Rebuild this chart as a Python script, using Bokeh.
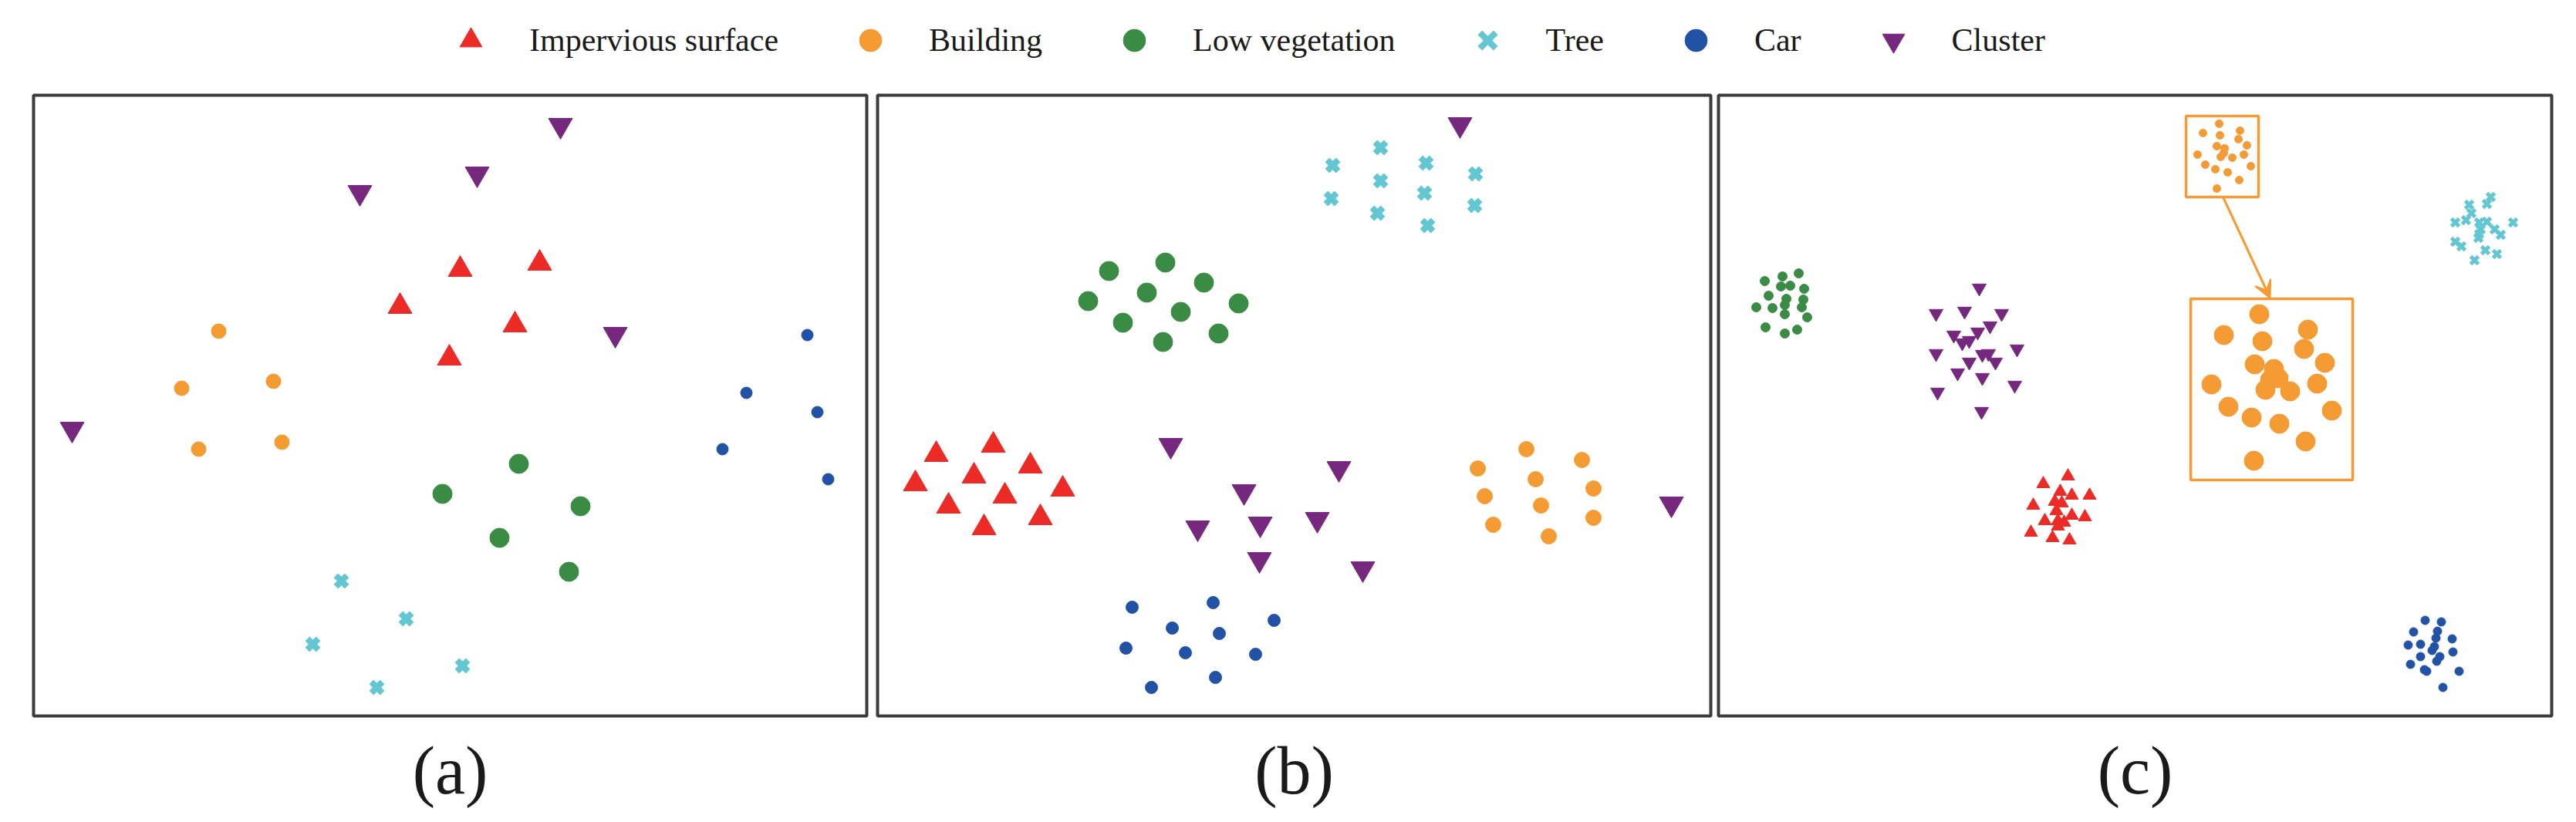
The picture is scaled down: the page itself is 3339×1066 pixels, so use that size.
from bokeh.plotting import figure
from bokeh.layouts import column, row
from bokeh.models import Legend, LegendItem, Range1d, Arrow, VeeHead
from bokeh.embed import file_html
from bokeh.resources import INLINE

# ---------------- data (embedding coordinates, panel units; y grows downward) ----------------
CLASS_NAMES = ["Impervious surface", "Building", "Low vegetation", "Tree", "Car", "Cluster"]
PANEL_LABELS = ["(a)", "(b)", "(c)"]

# panel (a)
A_IMP_X = [553, 656, 475, 624, 539]
A_IMP_Y = [226, 218, 274, 298, 341]
A_BLD_X = [240, 192, 311, 214, 322]
A_BLD_Y = [306, 380, 371, 459, 450]
A_VEG_X = [629, 530, 709, 604, 694]
A_VEG_Y = [478, 517, 533, 574, 618]
A_TREE_X = [399, 483, 362, 556, 445]
A_TREE_Y = [630, 679, 712, 740, 768]
A_CAR_X = [1003, 924, 1016, 893, 1030]
A_CAR_Y = [311, 386, 411, 459, 498]
A_CLU_X = [683, 575, 423, 754, 50]
A_CLU_Y = [39, 102, 126, 310, 433]

# panel (b)
B_IMP_X = [150, 76, 198, 125, 49, 240, 165, 92, 211, 138]
B_IMP_Y = [454, 466, 481, 494, 504, 511, 520, 533, 548, 561]
B_BLD_X = [841, 913, 778, 853, 928, 787, 860, 928, 798, 870]
B_BLD_Y = [459, 473, 484, 498, 510, 520, 532, 548, 557, 572]
B_VEG_X = [373, 300, 423, 349, 273, 468, 393, 318, 442, 370]
B_VEG_Y = [217, 228, 243, 256, 267, 270, 281, 295, 309, 320]
B_TREE_X = [652, 590, 711, 775, 652, 588, 709, 648, 774, 713]
B_TREE_Y = [68, 91, 88, 102, 111, 134, 127, 153, 143, 169]
B_CAR_X = [435, 330, 514, 382, 443, 322, 399, 490, 438, 355]
B_CAR_Y = [658, 664, 681, 691, 698, 717, 723, 725, 755, 768]
B_CLU_X = [755, 380, 598, 475, 1029, 415, 496, 570, 495, 629]
B_CLU_Y = [38, 454, 484, 514, 530, 561, 556, 550, 602, 614]

# panel (c)
C_IMP_X = [453, 421, 443, 458, 481, 408, 436, 445, 438, 458, 475, 423, 440, 448, 440, 405, 433, 455]
C_IMP_Y = [494, 504, 514, 519, 519, 532, 527, 529, 539, 545, 547, 552, 552, 554, 559, 567, 574, 577]
C_BLD_X = [649, 628, 650, 676, 674, 685, 646, 656, 655, 651, 666, 681, 621, 631, 644, 660, 690, 675, 646]
C_BLD_Y = [37, 49, 52, 46, 57, 65, 66, 69, 75, 80, 81, 77, 77, 90, 96, 100, 92, 110, 121]
C_VEG_X = [60, 83, 104, 81, 93, 111, 65, 88, 110, 49, 70, 86, 108, 86, 115, 61, 86, 102]
C_VEG_Y = [241, 235, 231, 248, 247, 251, 260, 264, 265, 275, 276, 272, 275, 284, 288, 301, 309, 304]
C_TREE_X = [1001, 996, 973, 976, 955, 969, 986, 996, 1030, 988, 1006, 986, 1014, 985, 955, 963, 994, 1009, 980]
C_TREE_Y = [132, 141, 142, 153, 165, 162, 165, 164, 165, 174, 174, 180, 181, 185, 190, 196, 201, 206, 214]
C_CAR_X = [916, 937, 901, 932, 951, 930, 894, 910, 928, 925, 952, 910, 935, 931, 897, 915, 918, 960, 939]
C_CAR_Y = [681, 683, 696, 695, 705, 704, 713, 712, 715, 720, 722, 728, 728, 734, 738, 745, 747, 747, 768]
C_CLU_X = [338, 282, 319, 367, 352, 336, 305, 316, 325, 282, 387, 342, 350, 359, 325, 310, 342, 384, 284, 341]
C_CLU_Y = [250, 283, 280, 283, 299, 307, 311, 321, 318, 335, 329, 336, 335, 346, 346, 360, 366, 376, 385, 410]

# magnified view of the Building cluster in panel (c)
C_ZOOM_X = [701, 655, 764, 705, 759, 695, 786, 720, 715, 726, 639, 776, 709, 741, 661, 795, 691, 727, 761, 694]
C_ZOOM_Y = [284, 311, 304, 319, 329, 349, 347, 355, 369, 367, 375, 374, 382, 384, 404, 409, 418, 426, 449, 474]
# boxes: source box and magnified box
C_BOX_LEFT = [606, 612]
C_BOX_RIGHT = [700, 822]
C_BOX_TOP = [27, 264]
C_BOX_BOTTOM = [132, 499]
# arrow from the source box to the magnified box
C_ARROW_START = (654, 132)
C_ARROW_END = (715, 263)

X_EXTENT = (0, 1080)
Y_EXTENT = (805, 0)

# ---------------- styles ----------------
COLORS = ["#EC2A26", "#F59B33", "#3A8B43", "#63C7D3", "#2152A6", "#76287F"]
MARKERS = ["triangle", "circle", "circle", "x", "circle", "inverted_triangle"]
FRAME_COLOR = "#3b3b3b"
SERIF = "Liberation Serif"

PANELS = [
    [(A_IMP_X, A_IMP_Y), (A_BLD_X, A_BLD_Y), (A_VEG_X, A_VEG_Y),
     (A_TREE_X, A_TREE_Y), (A_CAR_X, A_CAR_Y), (A_CLU_X, A_CLU_Y)],
    [(B_IMP_X, B_IMP_Y), (B_BLD_X, B_BLD_Y), (B_VEG_X, B_VEG_Y),
     (B_TREE_X, B_TREE_Y), (B_CAR_X, B_CAR_Y), (B_CLU_X, B_CLU_Y)],
    [(C_IMP_X, C_IMP_Y), (C_BLD_X, C_BLD_Y), (C_VEG_X, C_VEG_Y),
     (C_TREE_X, C_TREE_Y), (C_CAR_X, C_CAR_Y), (C_CLU_X, C_CLU_Y)],
]
SIZES = [
    [31, 19, 25, 15, 15, 31],
    [31, 20, 25, 15, 16, 31],
    [17, 10, 12, 9, 11, 18],
]
X_LW = [8, 8, 5]
BORDERS = [(43, 7), (7, 5), (5, 32)]


def make_panel(i):
    left, right = BORDERS[i]
    p = figure(frame_width=1080, frame_height=805,
               x_range=Range1d(*X_EXTENT), y_range=Range1d(*Y_EXTENT),
               output_backend="svg", toolbar_location=None,
               title=PANEL_LABELS[i], title_location="below",
               min_border_left=left, min_border_right=right,
               min_border_top=15, min_border_bottom=136)
    p.axis.visible = False
    p.grid.visible = False
    p.outline_line_color = FRAME_COLOR
    p.outline_line_width = 4
    p.title.align = "center"
    p.title.text_font = SERIF
    p.title.text_font_size = "88px"
    p.title.text_font_style = "normal"
    p.title.text_color = "#1a1a1a"
    p.title.standoff = 40
    p.background_fill_color = "white"
    p.border_fill_color = "white"

    if i == 2:
        p.quad(left=C_BOX_LEFT, right=C_BOX_RIGHT, top=C_BOX_TOP, bottom=C_BOX_BOTTOM,
               fill_color=None, line_color=COLORS[1], line_width=3.5)
        p.add_layout(Arrow(end=VeeHead(size=22, fill_color=COLORS[1], line_color=COLORS[1],
                                       line_width=2),
                           x_start=C_ARROW_START[0], y_start=C_ARROW_START[1],
                           x_end=C_ARROW_END[0], y_end=C_ARROW_END[1],
                           line_color=COLORS[1], line_width=3))
        p.scatter(C_ZOOM_X, C_ZOOM_Y, marker="circle", size=25,
                  fill_color=COLORS[1], line_color=COLORS[1])

    for k, (xs, ys) in enumerate(PANELS[i]):
        if MARKERS[k] == "x":
            p.scatter(xs, ys, marker="x", size=SIZES[i][k] + 5, line_color=COLORS[k],
                      line_width=X_LW[i])
        else:
            p.scatter(xs, ys, marker=MARKERS[k], size=SIZES[i][k],
                      fill_color=COLORS[k], line_color=COLORS[k])
    return p


panels = [make_panel(i) for i in range(3)]

# legend strip on top (legend renderers hold one point outside the visible range)
lf = figure(frame_width=3339, frame_height=108, x_range=Range1d(0, 1), y_range=Range1d(0, 1),
            output_backend="svg", toolbar_location=None,
            min_border_left=0, min_border_right=0, min_border_top=0, min_border_bottom=0)
lf.axis.visible = False
lf.grid.visible = False
lf.outline_line_color = None
items = []
for k, name in enumerate(CLASS_NAMES):
    if MARKERS[k] == "x":
        r = lf.scatter([-9], [-9], marker="x", size=20, line_color=COLORS[k], line_width=8)
    else:
        r = lf.scatter([-9], [-9], marker=MARKERS[k], size=20,
                       fill_color=COLORS[k], line_color=COLORS[k])
    items.append(LegendItem(label=name, renderers=[r]))
legend = Legend(items=items, orientation="horizontal", location=(574, 20),
                glyph_width=72, glyph_height=72, label_standoff=40, spacing=83,
                padding=0, margin=0, border_line_color=None, background_fill_alpha=0,
                label_text_font=SERIF, label_text_font_size="42px",
                label_text_color="#1a1a1a")
lf.add_layout(legend, "center")

layout = column(lf, row(*panels, spacing=0), spacing=0)

with open("out.html", "w") as f:
    f.write(file_html(layout, INLINE))
